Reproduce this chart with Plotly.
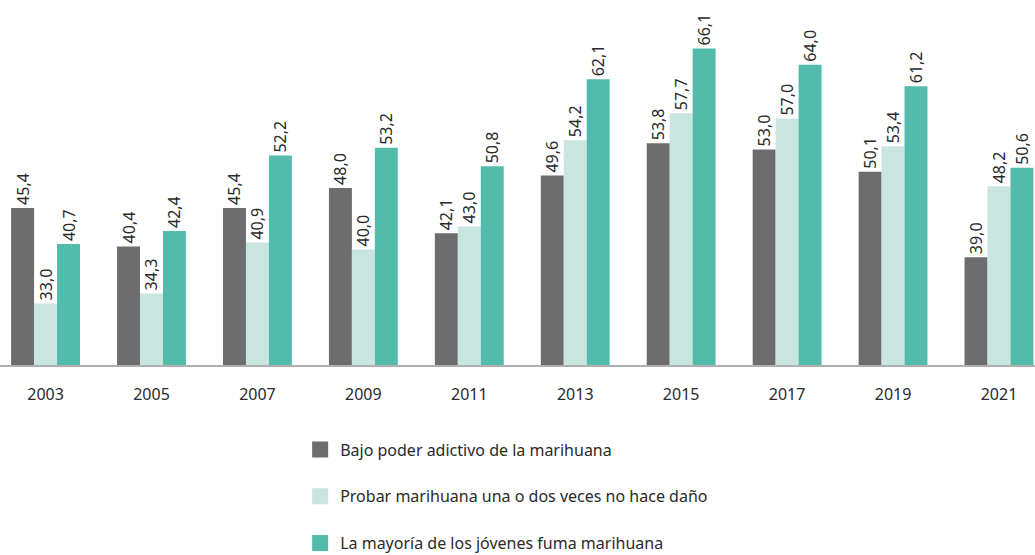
import plotly.graph_objects as go

years = ["2003", "2005", "2007", "2009", "2011", "2013", "2015", "2017", "2019", "2021"]
names = ["Bajo poder adictivo de la marihuana",
         "Probar marihuana una o dos veces no hace daño",
         "La mayoría de los jóvenes fuma marihuana"]
s1 = [45.4, 40.4, 45.4, 48.0, 42.1, 49.6, 53.8, 53.0, 50.1, 39.0]
s2 = [33.0, 34.3, 40.9, 40.0, 43.0, 54.2, 57.7, 57.0, 53.4, 48.2]
s3 = [40.7, 42.4, 52.2, 53.2, 50.8, 62.1, 66.1, 64.0, 61.2, 50.6]
colors = ["#6d6d6d", "#c8e5df", "#52bbab"]

fig = go.Figure()
xs = list(range(len(years)))
for i, (nm, vals, c) in enumerate(zip(names, [s1, s2, s3], colors)):
    fig.add_trace(go.Bar(
        x=xs, y=vals, name=nm, marker_color=c, marker_line_width=0,
        text=[f"{v:.1f}".replace(".", ",") for v in vals],
        textposition="outside", textangle=-90, constraintext="none",
        textfont=dict(size=16, color="#2a2a2a"),
        cliponaxis=False, showlegend=False,
    ))
# legend entries (square swatches)
for i, (nm, c) in enumerate(zip(names, colors)):
    fig.add_trace(go.Scatter(
        x=[None], y=[None], mode="markers", name=nm,
        marker=dict(symbol="square", size=16, color=c),
        legendgroup=str(i), showlegend=True,
    ))

fig.update_layout(
    width=1035, height=555,
    margin=dict(l=0, r=0, t=0, b=190, autoexpand=False),
    barmode="group", bargap=0.35, bargroupgap=0,
    plot_bgcolor="white", paper_bgcolor="white",
    font=dict(family="Noto Sans", size=16, color="#2a2a2a"),
    showlegend=True,
    legend=dict(x=0.29, y=-0.185, xanchor="left", yanchor="top",
                orientation="v", tracegroupgap=23, itemsizing="trace",
                font=dict(size=16, color="#2a2a2a"), itemwidth=30),
    xaxis=dict(tickmode="array", tickvals=xs, ticktext=years,
               range=[-0.43, 9.34], showgrid=False, zeroline=False,
               showline=True, linecolor="#b0b0b0", linewidth=2,
               ticks="", ticklabelstandoff=14,
               tickfont=dict(size=16, color="#2a2a2a")),
    yaxis=dict(range=[25, 72.4], visible=False, showgrid=False),
)
fig.write_html("out.html", config={"displayModeBar": False},
               post_script="document.body.style.margin='0';document.body.style.padding='0';")
